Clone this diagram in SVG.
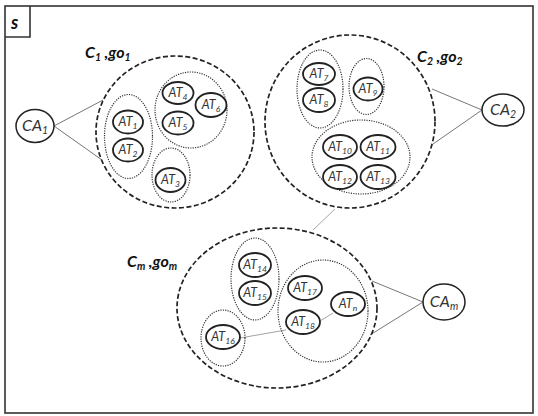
<svg xmlns="http://www.w3.org/2000/svg" width="538" height="416" viewBox="0 0 538 416">
<style>
.frame{fill:none;stroke:#333;stroke-width:1.6}
.cl{fill:none;stroke:#222;stroke-width:1.7;stroke-dasharray:5 2.5}
.grp{fill:none;stroke:#333;stroke-width:1.2;stroke-dasharray:1.2 1.2}
.at{fill:#fff;stroke:#222;stroke-width:1.8}
.ca{fill:#fff;stroke:#222;stroke-width:1.5}
.ln{fill:none;stroke:#777;stroke-width:1}
.lnl{fill:none;stroke:#999;stroke-width:0.9}
.atx{font-family:Lato,"Liberation Sans",sans-serif;font-style:italic;font-size:12.5px;fill:#333;text-anchor:middle}
.cax{font-family:Lato,"Liberation Sans",sans-serif;font-style:italic;font-size:16px;fill:#333;text-anchor:middle}
.sub{font-size:8.5px}
.cax .sub{font-size:10.5px}
.lbl{font-family:Lato,"Liberation Sans",sans-serif;font-style:italic;font-weight:bold;font-size:16px;fill:#111}
.lbl .sub{font-size:10.5px}
.s{font-size:18px}
</style>
<rect class="frame" x="5" y="6" width="528" height="407"/>
<path class="frame" d="M5 37 H30 V6"/>
<text class="lbl s" x="11" y="29">s</text>

<g id="connectors">
<line class="ln" x1="54" y1="126" x2="103" y2="100"/>
<line class="ln" x1="54" y1="126" x2="102" y2="160"/>
<line class="ln" x1="482" y1="110" x2="432" y2="89"/>
<line class="ln" x1="482" y1="110" x2="433" y2="144"/>
<line class="ln" x1="423" y1="302" x2="372" y2="281"/>
<line class="ln" x1="423" y1="302" x2="370" y2="335"/>
<line class="lnl" x1="335" y1="209" x2="313" y2="230"/>
<line class="lnl" x1="240" y1="338" x2="286" y2="330"/>
<line class="lnl" x1="320" y1="321" x2="333" y2="313"/>
</g>

<g id="C1">
<ellipse class="cl" cx="175" cy="132" rx="79" ry="76"/>
<text class="lbl" x="85" y="58">C<tspan class="sub" dy="3">1</tspan><tspan dy="-3"> ,go</tspan><tspan class="sub" dy="3">1</tspan></text>
</g>
<g id="C2">
<ellipse class="cl" cx="350" cy="121.5" rx="85" ry="86.5"/>
<text class="lbl" x="417" y="62">C<tspan class="sub" dy="3">2</tspan><tspan dy="-3"> ,go</tspan><tspan class="sub" dy="3">2</tspan></text>
</g>
<g id="Cm">
<ellipse class="cl" cx="277" cy="308" rx="100" ry="80"/>
<text class="lbl" x="127" y="267">C<tspan class="sub" dy="3">m</tspan><tspan dy="-3"> ,go</tspan><tspan class="sub" dy="3">m</tspan></text>
</g>

<g id="G1"><ellipse class="grp" cx="128.5" cy="136.5" rx="24" ry="42"/></g>
<g id="G2"><ellipse class="grp" cx="191" cy="110" rx="36" ry="38"/></g>
<g id="G3"><ellipse class="grp" cx="171" cy="175" rx="19" ry="27"/></g>
<g id="G4"><ellipse class="grp" cx="320" cy="89" rx="23" ry="39"/></g>
<g id="G5"><ellipse class="grp" cx="366.5" cy="86.5" rx="17.5" ry="28"/></g>
<g id="G6"><ellipse class="grp" cx="361" cy="157" rx="49" ry="37"/></g>
<g id="G7"><ellipse class="grp" cx="255" cy="279" rx="24" ry="41"/></g>
<g id="G8"><ellipse class="grp" cx="223" cy="338" rx="22" ry="28"/></g>
<g id="G9"><ellipse class="grp" cx="323" cy="311" rx="45" ry="51"/></g>

<g id="CA1"><ellipse class="ca" cx="35" cy="126" rx="19" ry="16.5"/><text class="cax" x="35" y="131">CA<tspan class="sub" dy="3">1</tspan></text></g>
<g id="CA2"><ellipse class="ca" cx="503" cy="110" rx="21" ry="16"/><text class="cax" x="503" y="115">CA<tspan class="sub" dy="3">2</tspan></text></g>
<g id="CAm"><ellipse class="ca" cx="444" cy="302" rx="21" ry="18"/><text class="cax" x="444" y="307">CA<tspan class="sub" dy="3">m</tspan></text></g>

<g id="AT1"><ellipse class="at" cx="128" cy="122" rx="15" ry="11.5"/><text class="atx" x="128" y="126">AT<tspan class="sub" dy="3">1</tspan></text></g>
<g id="AT2"><ellipse class="at" cx="128" cy="150" rx="15" ry="11.5"/><text class="atx" x="128" y="154">AT<tspan class="sub" dy="3">2</tspan></text></g>
<g id="AT3"><ellipse class="at" cx="170.5" cy="180" rx="15" ry="12"/><text class="atx" x="170.5" y="184">AT<tspan class="sub" dy="3">3</tspan></text></g>
<g id="AT4"><ellipse class="at" cx="178" cy="93" rx="15.5" ry="11"/><text class="atx" x="178" y="97">AT<tspan class="sub" dy="3">4</tspan></text></g>
<g id="AT5"><ellipse class="at" cx="178" cy="123" rx="15.5" ry="11.5"/><text class="atx" x="178" y="127">AT<tspan class="sub" dy="3">5</tspan></text></g>
<g id="AT6"><ellipse class="at" cx="211" cy="105" rx="15.5" ry="12"/><text class="atx" x="211" y="109">AT<tspan class="sub" dy="3">6</tspan></text></g>
<g id="AT7"><ellipse class="at" cx="319" cy="74" rx="16" ry="11"/><text class="atx" x="319" y="78">AT<tspan class="sub" dy="3">7</tspan></text></g>
<g id="AT8"><ellipse class="at" cx="319" cy="100" rx="16" ry="12"/><text class="atx" x="319" y="104">AT<tspan class="sub" dy="3">8</tspan></text></g>
<g id="AT9"><ellipse class="at" cx="368" cy="89" rx="14.5" ry="11.5"/><text class="atx" x="368" y="93">AT<tspan class="sub" dy="3">9</tspan></text></g>
<g id="AT10"><ellipse class="at" cx="340" cy="147" rx="17" ry="12"/><text class="atx" x="340" y="151">AT<tspan class="sub" dy="3">10</tspan></text></g>
<g id="AT11"><ellipse class="at" cx="378" cy="147" rx="17.5" ry="12"/><text class="atx" x="378" y="151">AT<tspan class="sub" dy="3">11</tspan></text></g>
<g id="AT12"><ellipse class="at" cx="340" cy="177" rx="17" ry="12"/><text class="atx" x="340" y="181">AT<tspan class="sub" dy="3">12</tspan></text></g>
<g id="AT13"><ellipse class="at" cx="378" cy="177" rx="17.5" ry="12"/><text class="atx" x="378" y="181">AT<tspan class="sub" dy="3">13</tspan></text></g>
<g id="AT14"><ellipse class="at" cx="255" cy="265" rx="16" ry="12"/><text class="atx" x="255" y="269">AT<tspan class="sub" dy="3">14</tspan></text></g>
<g id="AT15"><ellipse class="at" cx="255" cy="293" rx="16" ry="12"/><text class="atx" x="255" y="297">AT<tspan class="sub" dy="3">15</tspan></text></g>
<g id="AT16"><ellipse class="at" cx="223" cy="337" rx="17" ry="12"/><text class="atx" x="223" y="341">AT<tspan class="sub" dy="3">16</tspan></text></g>
<g id="AT17"><ellipse class="at" cx="305" cy="288" rx="17" ry="12"/><text class="atx" x="305" y="292">AT<tspan class="sub" dy="3">17</tspan></text></g>
<g id="AT18"><ellipse class="at" cx="303" cy="322" rx="17" ry="12"/><text class="atx" x="303" y="326">AT<tspan class="sub" dy="3">18</tspan></text></g>
<g id="ATn"><ellipse class="at" cx="348" cy="304" rx="17" ry="12"/><text class="atx" x="348" y="308">AT<tspan class="sub" dy="3">n</tspan></text></g>
</svg>
